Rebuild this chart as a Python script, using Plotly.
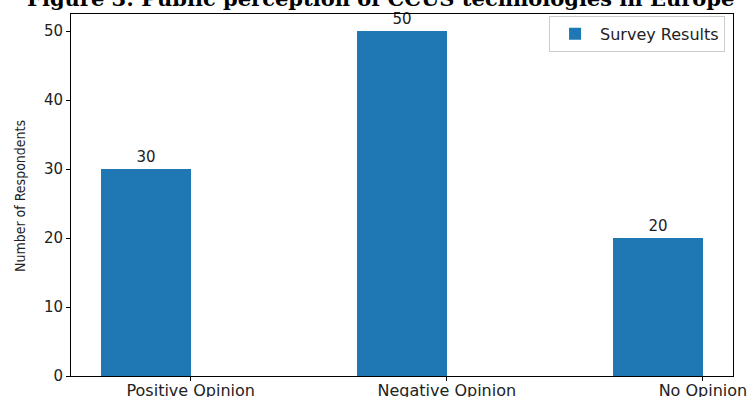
import plotly.graph_objects as go

categories = ["Positive Opinion", "Negative Opinion", "No Opinion"]
values = [30, 50, 20]
series_name = "Survey Results"
title_text = "Figure 3: Public perception of CCUS technologies in Europe"
y_title = "Number of Respondents"
y_ticks = [0, 10, 20, 30, 40, 50]

W, H = 750, 397
L, R, T, B = 71, 17, 14, 21

xpos = list(range(len(categories)))

fig = go.Figure()
fig.add_trace(go.Bar(
    x=xpos, y=values, name=series_name,
    width=0.35, offset=-0.35,
    marker=dict(color="#1f77b4", line=dict(width=0)),
    text=[str(v) for v in values], textposition="outside",
    textfont=dict(family="DejaVu Sans", size=15, color="#222"),
    cliponaxis=False, showlegend=True,
))

fig.update_layout(
    width=W, height=H,
    margin=dict(l=L, r=R, t=T, b=B, pad=0, autoexpand=False),
    paper_bgcolor="white", plot_bgcolor="white",
    font=dict(family="DejaVu Sans", size=15, color="#222"),
    showlegend=True,
    legend=dict(x=0.988, y=0.995, xanchor="right", yanchor="top",
                bgcolor="rgba(255,255,255,0.8)", bordercolor="#cccccc", borderwidth=1,
                itemwidth=40,
                font=dict(family="DejaVu Sans", size=16, color="#222")),
    xaxis=dict(range=[-0.4675, 2.1175], tickvals=xpos, ticktext=categories,
               automargin=False, ticklabelstandoff=-4,
               showgrid=False, zeroline=False, showline=True, mirror=True,
               linecolor="black", linewidth=1, ticks="outside", ticklen=4,
               tickcolor="black", tickfont=dict(size=16)),
    yaxis=dict(range=[0, 52.5], tickvals=y_ticks, showgrid=False, zeroline=False,
               automargin=False,
               showline=True, mirror=True, linecolor="black", linewidth=1,
               ticks="outside", ticklen=4, tickcolor="black", tickfont=dict(size=15)),
    bargap=0,
)

fig.add_annotation(text=y_title, xref="paper", yref="paper", x=(20 - L) / (W - L - R), y=(376 - 196) / 362,
                   xanchor="center", yanchor="middle", textangle=-90, showarrow=False,
                   font=dict(family="DejaVu Sans Condensed", size=14, color="#222"))

fig.add_annotation(text="<b>" + title_text + "</b>", xref="paper", yref="paper",
                   x=(380 - L) / (W - L - R), y=(376 - 13) / 362,
                   xanchor="center", yanchor="bottom", showarrow=False,
                   font=dict(family="DejaVu Serif", size=21, color="black"))

fig.write_html("out.html")
